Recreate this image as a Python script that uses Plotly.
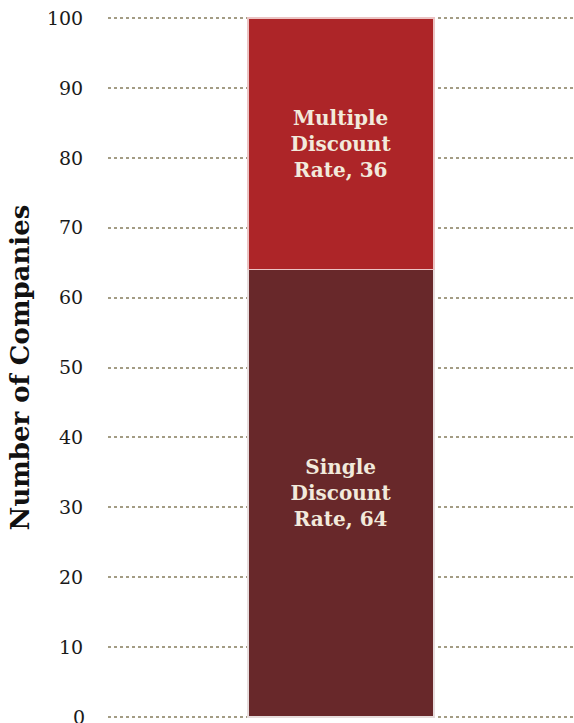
import plotly.graph_objects as go

# Companies by discount-rate approach
category = ["Companies"]
single_rate = [64]
multiple_rate = [36]
segment_names = ["Single Discount Rate", "Multiple Discount Rate"]
tick_values = [0, 10, 20, 30, 40, 50, 60, 70, 80, 90, 100]
tick_labels = [str(v) for v in tick_values]

SERIF = "Georgia, 'DejaVu Serif', serif"
TEXT_CREAM = "#F2EADC"
TICK_FONT = dict(family=SERIF, size=19, color="#1A1A1A")

fig = go.Figure()
fig.add_trace(go.Bar(
    x=category, y=single_rate, name=segment_names[0],
    marker=dict(color="#68282A", line=dict(color="#E6DCDC", width=1.5)),
    text=[f"Single<br>Discount<br>Rate, {v}" for v in single_rate],
    textposition="inside", insidetextanchor="middle",
    textfont=dict(family=SERIF, size=20, color=TEXT_CREAM, weight="bold"),
    width=0.4,
))
fig.add_trace(go.Bar(
    x=category, y=multiple_rate, name=segment_names[1],
    marker=dict(color="#AD2528", line=dict(color="#EBC4C4", width=1.5)),
    text=[f"Multiple<br>Discount<br>Rate, {v}" for v in multiple_rate],
    textposition="inside", insidetextanchor="middle",
    textfont=dict(family=SERIF, size=20, color=TEXT_CREAM, weight="bold"),
    width=0.4,
))

# the baseline label sits at the page's bottom edge, so it is placed by hand
axis_labels = [t if v != 0 else "" for v, t in zip(tick_values, tick_labels)]
fig.add_annotation(
    x=0, xref="paper", xanchor="right", xshift=-21,
    y=0, yref="y", yanchor="middle",
    text=tick_labels[0], showarrow=False, font=TICK_FONT,
)

fig.update_layout(
    barmode="stack",
    width=574, height=723,
    margin=dict(l=108, r=0, t=16, b=4),
    plot_bgcolor="white", paper_bgcolor="white",
    showlegend=False,
    uniformtext=dict(mode=False),
    xaxis=dict(visible=False),
    yaxis=dict(
        range=[-0.3, 100.3], tickvals=tick_values, ticktext=axis_labels,
        showgrid=True, gridcolor="#A39C84", gridwidth=1.5, griddash="dot",
        zeroline=False, showline=False,
        ticks="outside", ticklen=20, tickcolor="rgba(0,0,0,0)",
        tickfont=TICK_FONT,
        title=dict(text="Number of Companies", standoff=9,
                   font=dict(family=SERIF, size=26, color="#111111", weight="bold")),
    ),
)

fig.write_html("out.html")
